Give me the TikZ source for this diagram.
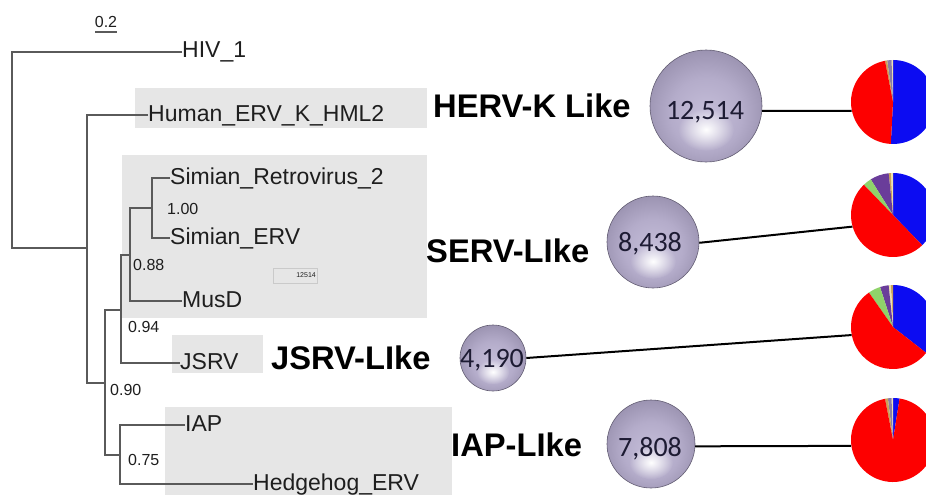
\documentclass[tikz,border=0pt]{standalone}
\usepackage{fontspec}
\usetikzlibrary{fadings}
\setmainfont{Liberation Sans}
\newfontfamily\carl{Carlito}
\definecolor{taxtext}{HTML}{1E1E1E}
\definecolor{treeline}{HTML}{5A5A5A}
\definecolor{boxgray}{HTML}{E6E6E6}
\definecolor{smallbox}{HTML}{CACACA}
\definecolor{counttext}{HTML}{1D1B33}
\definecolor{sphhi}{HTML}{FFFFFF}
\definecolor{sphc}{HTML}{C6BFDA}
\definecolor{sphlt}{HTML}{B4ACCA}
\definecolor{sphmid}{HTML}{9A92B0}
\definecolor{sphdk}{HTML}{736D87}
\definecolor{sphdkb}{HTML}{575165}
\definecolor{sphline}{HTML}{625C72}
\definecolor{pblue}{HTML}{0C0CF2}
\definecolor{pred}{HTML}{FD0000}
\definecolor{pgreen}{HTML}{8FD36A}
\definecolor{ppurple}{HTML}{6A3D9A}
\definecolor{ptan}{HTML}{C9A25A}
\definecolor{pcream}{HTML}{EFE3B0}
\definecolor{pgrayp}{HTML}{8B7EA6}
\pgfdeclareradialshading{sphereshade}{\pgfpoint{0bp}{-5bp}}{%
  color(0bp)=(sphc); color(16bp)=(sphlt); color(28bp)=(sphmid);
  color(38bp)=(sphdk); color(46bp)=(sphdkb); color(50bp)=(sphdkb)}
\tikzfading[name=glow, inner color=transparent!0, outer color=transparent!100]
\newcommand\pieslice[4]{\fill[#4] (#1) -- ++(#2:42) arc[start angle=#2, end angle=#3, radius=42] -- cycle;}
\newcommand\spheregloss[2]{\fill[sphhi, path fading=glow] ([yshift={-0.42*#2pt}]#1.center) ellipse[x radius={0.5*#2}, y radius={0.38*#2}];}
\begin{document}
\begin{tikzpicture}[x=1pt,y=1pt,
  tree/.style={draw=treeline, line width=1.1pt},
  taxon/.style={anchor=base west, inner sep=0pt, font=\fontsize{23}{23}\selectfont, text=taxtext},
  supval/.style={anchor=west, inner sep=0pt, font=\fontsize{16}{16}\selectfont, text=taxtext},
  cladebox/.style={fill=boxgray},
  biglabel/.style={anchor=west, inner sep=0pt, font=\fontsize{32.7}{33}\selectfont\bfseries, text=black},
  sphere/.style={circle, inner sep=0pt, shading=sphereshade, draw=sphline, line width=0.6pt},
  count/.style={anchor=base, inner sep=0pt, font=\carl\fontsize{28}{28}\selectfont, text=counttext},
  pie/.style={circle, inner sep=0pt, minimum size=84pt},
  link/.style={draw=black, line width=2pt}]
\useasboundingbox (0,0) rectangle (926,-495);

% clade boxes
\fill[cladebox] (135,-88) rectangle (427,-128);
\fill[cladebox] (122,-155) rectangle (427,-318);
\fill[cladebox] (172,-335) rectangle (263,-373);
\fill[cladebox] (165,-407) rectangle (452,-495);

% small inset box
\node[draw=smallbox, line width=0.8pt, minimum width=44pt, minimum height=15pt, inner sep=0pt] (minibox) at (295,-275.5) {};
\node[anchor=east, inner sep=0pt, font=\fontsize{7}{7}\selectfont, text=taxtext] (minitext) at (316,-275.5) {12514};

% scale bar
\node[supval, anchor=base] (scl) at (106,-28) {0.2};
\coordinate (sb1) at (95,-32);
\coordinate (sb2) at (117,-32);
\draw[tree] (sb1) -- (sb2);

% taxa
\node[taxon] (hiv) at (182,-58) {HIV\_1};
\node[taxon] (human) at (148,-121) {Human\_ERV\_K\_HML2};
\node[taxon] (sr2) at (170,-184) {Simian\_Retrovirus\_2};
\node[taxon] (serv) at (170,-244) {Simian\_ERV};
\node[taxon] (musd) at (182,-307) {MusD};
\node[taxon] (jsrv) at (180,-369) {JSRV};
\node[taxon] (iap) at (185,-431) {IAP};
\node[taxon] (hedge) at (253,-490) {Hedgehog\_ERV};

% internal nodes
\coordinate (r0) at (12,-248);
\coordinate (n1) at (87,-248);
\coordinate (n2) at (105,-383);
\coordinate (n3) at (121,-310);
\coordinate (n4) at (130,-255);
\coordinate (n5) at (152,-208);
\coordinate (n6) at (120,-455);

% branches
\draw[tree] ([yshift=6pt]hiv.base west) -| (r0) -- (n1);
\draw[tree] ([yshift=6pt]human.base west) -| (n1) |- (n2);
\draw[tree] (n3) -| (n2) |- (n6);
\draw[tree] (n4) -| (n3) |- ([yshift=6pt]jsrv.base west);
\draw[tree] (n5) -| (n4) |- ([yshift=6pt]musd.base west);
\draw[tree] ([yshift=6pt]sr2.base west) -| (n5) |- ([yshift=6pt]serv.base west);
\draw[tree] ([yshift=6pt]iap.base west) -| (n6) |- ([yshift=6pt]hedge.base west);

% support values
\node[supval] (b100) at (167,-209) {1.00};
\node[supval] (b088) at (133,-265) {0.88};
\node[supval] (b094) at (128,-327) {0.94};
\node[supval] (b090) at (110,-390) {0.90};
\node[supval] (b075) at (128,-460) {0.75};

% group labels
\node[biglabel] (lherv) at (433,-106) {HERV-K Like};
\node[biglabel] (lserv) at (426,-251) {SERV-LIke};
\node[biglabel] (ljsrv) at (271,-358) {JSRV-LIke};
\node[biglabel] (liap) at (451,-445) {IAP-LIke};

% spheres
\node[sphere, minimum size=112pt] (s1) at (706,-106) {};
\node[sphere, minimum size=92pt] (s2) at (653,-242) {};
\node[sphere, minimum size=66pt] (s3) at (493,-358) {};
\node[sphere, minimum size=88pt] (s4) at (651,-444) {};
\spheregloss{s1}{56}
\spheregloss{s2}{46}
\spheregloss{s3}{33}
\spheregloss{s4}{44}
\node[count] (c1) at (705,-119) {12,514};
\node[count] (c2) at (650,-251) {8,438};
\node[count] (c3) at (492,-367) {4,190};
\node[count] (c4) at (650,-456) {7,808};

% pies
\node[pie] (p1) at (893,-102) {};
\node[pie] (p2) at (893,-215) {};
\node[pie] (p3) at (893,-327) {};
\node[pie] (p4) at (893,-440) {};
\begin{scope}
\clip (0,0) rectangle (926,-495);
\pieslice{p1.center}{-93}{90}{pblue}
\pieslice{p1.center}{90}{92}{pcream}
\pieslice{p1.center}{92}{98}{pgrayp}
\pieslice{p1.center}{98}{101}{ptan}
\pieslice{p1.center}{101}{267}{pred}
\pieslice{p2.center}{-46}{90}{pblue}
\pieslice{p2.center}{90}{93}{pcream}
\pieslice{p2.center}{93}{96}{ptan}
\pieslice{p2.center}{96}{122}{ppurple}
\pieslice{p2.center}{122}{134}{pgreen}
\pieslice{p2.center}{134}{314}{pred}
\pieslice{p3.center}{-38}{90}{pblue}
\pieslice{p3.center}{90}{93}{ptan}
\pieslice{p3.center}{93}{96}{pcream}
\pieslice{p3.center}{96}{108}{ppurple}
\pieslice{p3.center}{108}{125}{pgreen}
\pieslice{p3.center}{125}{322}{pred}
\pieslice{p4.center}{81}{90}{pblue}
\pieslice{p4.center}{90}{92}{pcream}
\pieslice{p4.center}{92}{97}{pgrayp}
\pieslice{p4.center}{97}{101}{ptan}
\pieslice{p4.center}{101}{441}{pred}
\end{scope}

% links
\draw[link] (s1.-5) -- (p1.192);
\draw[link] (s2.-1) -- (p2.196);
\draw[link] (s3.east) -- (p3.191);
\draw[link] (s4.-3) -- (p4.188);
\end{tikzpicture}
\end{document}
